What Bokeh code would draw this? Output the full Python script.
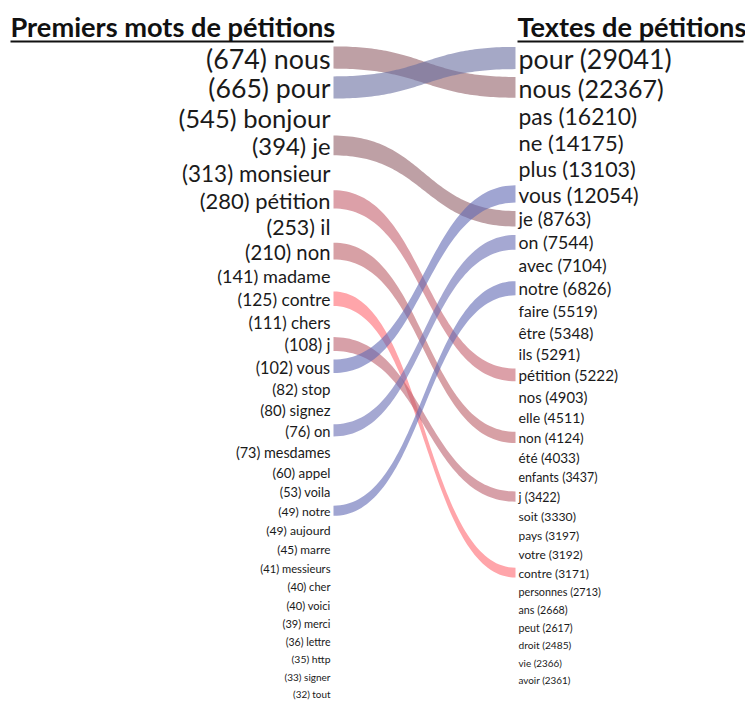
import numpy as np
from bokeh.plotting import figure
from bokeh.models import Range1d, ColumnDataSource
from bokeh.core.properties import value
from bokeh.embed import file_html
from bokeh.resources import INLINE

# ---------------- data ----------------
left_title = "Premiers mots de pétitions"
right_title = "Textes de pétitions"

left_words = ["nous", "pour", "bonjour", "je", "monsieur", "pétition", "il", "non",
              "madame", "contre", "chers", "j", "vous", "stop", "signez", "on",
              "mesdames", "appel", "voila", "notre", "aujourd", "marre", "messieurs",
              "cher", "voici", "merci", "lettre", "http", "signer", "tout"]
left_counts = [674, 665, 545, 394, 313, 280, 253, 210, 141, 125, 111, 108, 102, 82, 80,
               76, 73, 60, 53, 49, 49, 45, 41, 40, 40, 39, 36, 35, 33, 32]

right_words = ["pour", "nous", "pas", "ne", "plus", "vous", "je", "on", "avec", "notre",
               "faire", "être", "ils", "pétition", "nos", "elle", "non", "été", "enfants",
               "j", "soit", "pays", "votre", "contre", "personnes", "ans", "peut", "droit",
               "vie", "avoir"]
right_counts = [29041, 22367, 16210, 14175, 13103, 12054, 8763, 7544, 7104, 6826, 5519,
                5348, 5291, 5222, 4903, 4511, 4124, 4033, 3437, 3422, 3330, 3197, 3192,
                3171, 2713, 2668, 2617, 2485, 2366, 2361]

link_words = ["nous", "pour", "je", "pétition", "non", "contre", "j", "vous", "on", "notre"]

# ---------------- styles ----------------
link_colors = ["#936169", "#696ea0", "#936169", "#c5616e", "#bc6169", "#ff6971",
               "#bc616e", "#6169b4", "#696eb4", "#6169b4"]
FONT = "Lato"
FS_MIN, FS_MAX = 10.5, 28.5     # reference font sizes (px)
FONT_SCALE = 0.94               # Lato is a bit wider than the original font
TITLE_FS = 27.2
TOP_Y = 58
LEFT_TEXT_X, RIGHT_TEXT_X = 330, 518
BAND_X0, BAND_X1 = 333, 515


def font_sizes(counts):
    lc = np.log(np.array(counts, dtype=float))
    return FS_MIN + (FS_MAX - FS_MIN) * (lc - lc.min()) / (lc.max() - lc.min())


def row_positions(fs):
    ys = [TOP_Y]
    for a, b in zip(fs[:-1], fs[1:]):
        ys.append(ys[-1] + 0.35 * (a + b) + 10.05)
    return np.array(ys)


fs_l = font_sizes(left_counts)
fs_r = font_sizes(right_counts)
y_l = row_positions(fs_l)
y_r = row_positions(fs_r)

W, H = 745, 701
p = figure(width=W, height=H, x_range=Range1d(0, W), y_range=Range1d(H, 0),
           output_backend="svg", toolbar_location=None, min_border=0,
           x_axis_location=None, y_axis_location=None)
p.grid.visible = False
p.outline_line_color = None
p.background_fill_color = "white"

# ---------------- bands ----------------
xs_all, ys_all = [], []
t = np.linspace(0, 1, 80)
for w in link_words:
    i = left_words.index(w)
    j = right_words.index(w)
    yl, yr = y_l[i] - 1, y_r[j] - 0.5
    wl, wr = 0.78 * fs_l[i], 0.78 * fs_r[j]
    x0, x1 = BAND_X0, BAND_X1
    xm = (x0 + x1) / 2
    bx = (1 - t) ** 3 * x0 + 3 * (1 - t) ** 2 * t * xm + 3 * (1 - t) * t ** 2 * xm + t ** 3 * x1
    s = 3 * t ** 2 - 2 * t ** 3
    top = (yl - wl / 2) + ((yr - wr / 2) - (yl - wl / 2)) * s
    bot = (yl + wl / 2) + ((yr + wr / 2) - (yl + wl / 2)) * s
    xs_all.append(list(bx) + list(bx[::-1]))
    ys_all.append(list(top) + list(bot[::-1]))

p.patches(xs=xs_all, ys=ys_all, fill_color=link_colors, fill_alpha=0.6, line_color=None)

# ---------------- labels ----------------
src_l = ColumnDataSource(dict(
    x=[LEFT_TEXT_X] * len(left_words), y=list(y_l),
    txt=[f"({c}) {w}" for w, c in zip(left_words, left_counts)],
    fs=[f"{f * FONT_SCALE:.1f}px" for f in fs_l]))
src_r = ColumnDataSource(dict(
    x=[RIGHT_TEXT_X] * len(right_words), y=list(y_r),
    txt=[f"{w} ({c})" for w, c in zip(right_words, right_counts)],
    fs=[f"{f * FONT_SCALE:.1f}px" for f in fs_r]))

p.text(x="x", y="y", text="txt", source=src_l, text_font=value(FONT), text_font_size="fs",
       text_align="right", text_baseline="middle", text_color="#1a1a1a")
p.text(x="x", y="y", text="txt", source=src_r, text_font=value(FONT), text_font_size="fs",
       text_align="left", text_baseline="middle", text_color="#1a1a1a")

# ---------------- titles (underlined) ----------------
p.text(x=[10], y=[26], text=[left_title], text_font=value(FONT), text_font_style="bold",
       text_font_size=f"{TITLE_FS}px", text_align="left", text_baseline="middle",
       text_color="#111111")
p.text(x=[517], y=[26], text=[right_title], text_font=value(FONT), text_font_style="bold",
       text_font_size=f"{TITLE_FS}px", text_align="left", text_baseline="middle",
       text_color="#111111")
p.segment(x0=[10, 517], y0=[41, 41], x1=[333, 743], y1=[41, 41], line_color="#111111",
          line_width=2)

open("out.html", "w").write(file_html(p, INLINE))
